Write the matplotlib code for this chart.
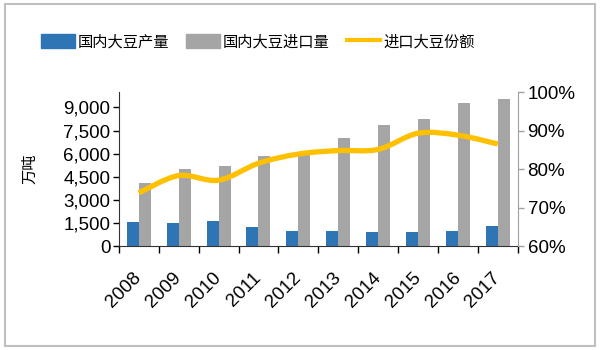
import matplotlib
matplotlib.use("Agg")
import matplotlib.pyplot as plt
import numpy as np
from matplotlib.path import Path
from matplotlib.patches import PathPatch, Patch, Rectangle
from matplotlib.lines import Line2D
from matplotlib.ticker import FuncFormatter

plt.rcParams['font.family'] = ['Liberation Sans', 'Noto Sans CJK SC', 'DejaVu Sans']

# data
years = ["2008", "2009", "2010", "2011", "2012", "2013", "2014", "2015", "2016", "2017"]
production = [1560, 1500, 1630, 1220, 985, 965, 920, 900, 990, 1290]
imports = [4070, 4990, 5190, 5870, 6050, 6990, 7830, 8280, 9320, 9560]
import_share = [73.8, 78.3, 77.1, 81.5, 83.9, 84.8, 85.1, 89.3, 88.8, 86.5]

labels = ["国内大豆产量", "国内大豆进口量", "进口大豆份额"]
c_blue, c_gray, c_gold = "#2E75B6", "#A5A5A5", "#FFC000"


def smooth_path(xs, ys):
    # Excel-style smoothed line: cubic Bezier segments, Catmull-Rom control points
    pts = np.column_stack([xs, ys]).astype(float)
    ext = np.vstack([pts[0], pts, pts[-1]])
    verts = [pts[0]]
    codes = [Path.MOVETO]
    for i in range(1, len(ext) - 2):
        p0, p1, p2, p3 = ext[i - 1], ext[i], ext[i + 1], ext[i + 2]
        verts += [p1 + (p2 - p0) / 6, p2 - (p3 - p1) / 6, p2]
        codes += [Path.CURVE4] * 3
    return Path(verts, codes)


fig = plt.figure(figsize=(6, 3.5), dpi=100)
fig.patches.append(Rectangle((0.008, 0.012), 0.984, 0.976, transform=fig.transFigure,
                             fill=False, edgecolor="#BFBFBF", linewidth=1.5))

ax = fig.add_axes([0.198, 0.297, 0.665, 0.44])
x = np.arange(len(years))
w = 0.3
ax.bar(x - w / 2, production, w, color=c_blue, zorder=2)
ax.bar(x + w / 2, imports, w, color=c_gray, zorder=2)

ax.set_xlim(-0.5, len(years) - 0.5)
ax.set_ylim(0, 10000)
ax.set_yticks(np.arange(0, 9001, 1500))
ax.yaxis.set_major_formatter(FuncFormatter(lambda v, p: f"{int(v):,}"))
ax.tick_params(axis="y", labelsize=13.5, length=4, width=1, pad=2)

ax.set_xticks(x)
ax.set_xticklabels(years, rotation=45, ha="right", va="center", rotation_mode="anchor", fontsize=13.5)
ax.set_xticks(np.arange(-0.5, len(years)), minor=True)
ax.tick_params(axis="x", which="major", length=0, pad=21)
ax.tick_params(axis="x", which="minor", length=5, width=1)

ax.spines["top"].set_visible(False)
ax.spines["right"].set_visible(False)
ax.spines["left"].set_color("#333333")
ax.spines["bottom"].set_color("#333333")
ax.set_ylabel("万吨", fontsize=11, family=["Noto Sans CJK SC"], labelpad=18)

ax2 = ax.twinx()
ax2.set_ylim(60, 100)
ax2.set_yticks(np.arange(60, 101, 10))
ax2.yaxis.set_major_formatter(FuncFormatter(lambda v, p: f"{int(v)}%"))
ax2.tick_params(axis="y", labelsize=13.5, length=4, width=1, color="#A0A0A0", pad=3)
for s in ["top", "left", "bottom"]:
    ax2.spines[s].set_visible(False)
ax2.spines["right"].set_color("#A0A0A0")
ax2.add_patch(PathPatch(smooth_path(x, import_share), fill=False, edgecolor=c_gold,
                        linewidth=3.8, capstyle="butt", zorder=3))

handles = [Patch(color=c_blue), Patch(color=c_gray), Line2D([], [], color=c_gold, linewidth=3)]
fig.legend(handles, labels, loc="center", bbox_to_anchor=(0.43, 0.88), ncol=3, frameon=False,
           prop={"family": ["Noto Sans CJK SC"], "size": 11}, handlelength=2.2,
           handleheight=1.0, handletextpad=0.2, columnspacing=1.1)

fig.savefig("out.png", dpi=100)
